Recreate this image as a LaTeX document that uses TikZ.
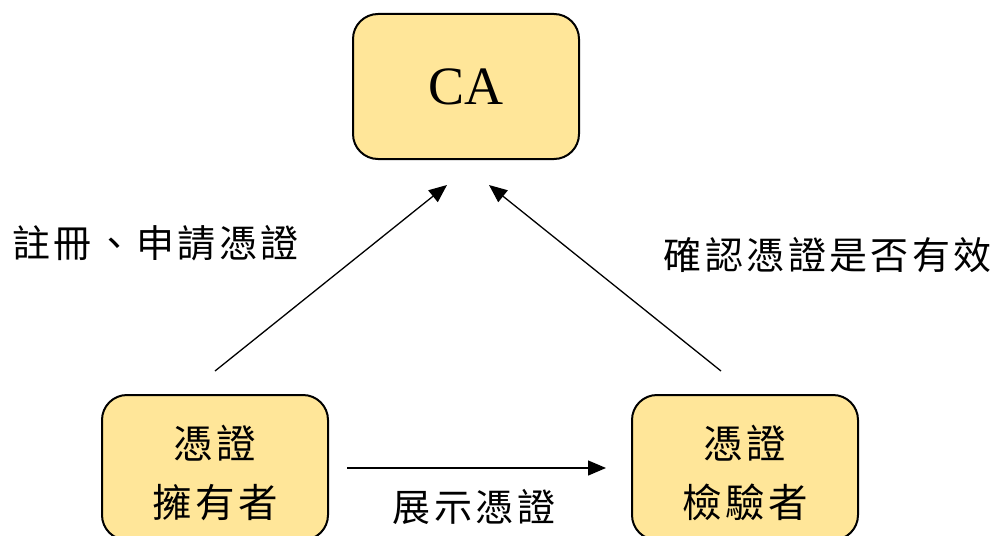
\documentclass[tikz,border=0pt]{standalone}
\usepackage{fontspec}
\setmainfont{Liberation Serif}
\newfontfamily\cjk{Noto Sans CJK TC}[LetterSpace=9]
\usetikzlibrary{arrows.meta}
\definecolor{boxfill}{HTML}{FFE699}
\tikzset{
  role/.style={draw=black, line width=2pt, fill=boxfill, rounded corners=25pt,
    minimum width=226pt, minimum height=145pt, inner sep=0pt, align=center},
  roletext/.style={inner sep=0pt, align=center, font=\fontsize{39.5}{59}\cjk},
  flow/.style={line width=1.3pt, -{Triangle[length=18pt,width=15pt]}},
  caption/.style={inner sep=0pt, font=\fontsize{38}{40}\cjk}
}
\begin{document}
\begin{tikzpicture}[x=1pt, y=-1pt]
  \useasboundingbox (0,0) rectangle (995,535);
  \clip (0,0) rectangle (995,535);
  % three parties
  \node[role, font=\fontsize{54}{60}\selectfont] (ca) at (466,86.5) {CA};
  \node[role] (holder) at (215,467.5) {};
  \node[role] (verifier) at (745,467.5) {};
  \node[roletext] (holdertext) at ([yshift=-5pt]holder.center) {憑證\\擁有者};
  \node[roletext] (verifiertext) at ([yshift=-5pt]verifier.center) {憑證\\檢驗者};
  % arrow ends
  \coordinate (hs) at (215,371);
  \coordinate (ht) at (447,185);
  \coordinate (vs) at (721,371);
  \coordinate (vt) at (489,185);
  \coordinate (ps) at (347,468);
  \coordinate (pt) at (606,468);
  \draw[flow] (hs) -- (ht);
  \draw[flow] (vs) -- (vt);
  \draw[flow] (ps) -- (pt);
  % labels
  \node[caption, anchor=west] (l1) at (12,243) {註冊、申請憑證};
  \node[caption, anchor=east] (l2) at (992,255) {確認憑證是否有效};
  \node[caption] (l3) at (474,507) {展示憑證};
\end{tikzpicture}
\end{document}
